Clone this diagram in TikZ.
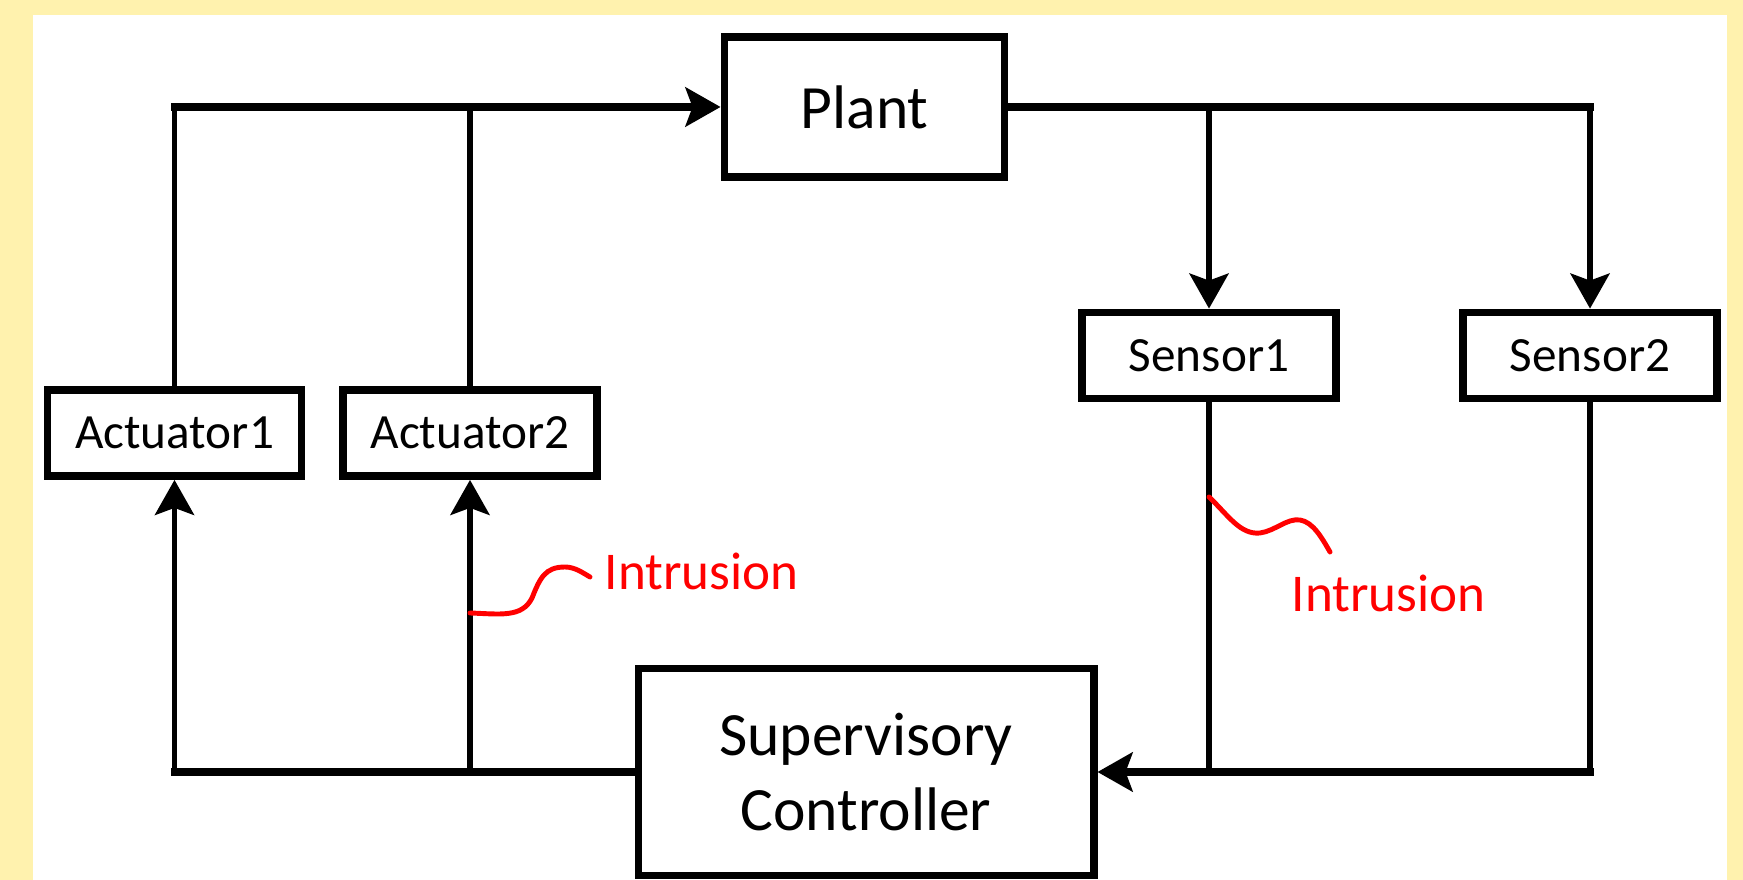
\documentclass[tikz,border=0pt]{standalone}
\usepackage{fontspec}
\setmainfont{Carlito}
\usetikzlibrary{arrows.meta}
\definecolor{bgyellow}{HTML}{FFF2AE}

\begin{document}
\begin{tikzpicture}[x=0.01cm,y=-0.01cm,>={Stealth[length=3.5mm,width=3.9mm,inset=0.7mm]},
  box/.style={draw,line width=2.2pt,inner sep=0pt,fill=white},
  small/.style={box,minimum width=2.54cm,minimum height=0.86cm,font=\fontsize{14}{16}\selectfont},
  big/.style={box,align=center,font=\fontsize{17.5}{21.3}\selectfont},
  bus/.style={line width=2pt,line cap=rect},
  wire/.style={line width=1.6pt},
  hack/.style={red,line width=1.4pt,line cap=round},
  alert/.style={red,inner sep=0pt,anchor=base west,font=\fontsize{15.1}{17}\selectfont}]
\useasboundingbox (0,0) rectangle (1743,880);
\fill[bgyellow] (0,0) rectangle (1743,880);
\fill[white] (33,15) rectangle (1727,880);
% blocks
\node[big,minimum width=2.8cm,minimum height=1.4cm] (plant) at (864.5,107) {Plant};
\node[big,minimum width=4.55cm,minimum height=2.07cm] (ctrl) at (866,772) {Supervisory\\Controller};
\node[small] (act1) at (174.5,433) {Actuator1};
\node[small] (act2) at (470,433) {Actuator2};
\node[small] (sen1) at (1209,355.5) {Sensor1};
\node[small] (sen2) at (1590,355.5) {Sensor2};
% actuators -> plant
\draw[wire] (act1.north) -- (act1.north |- plant.west);
\draw[wire] (act2.north) -- (act2.north |- plant.west);
\draw[bus,->] (act1.north |- plant.west) -- (plant.west);
% plant -> sensors
\draw[bus] (plant.east) -- (sen2.north |- plant.east);
\draw[wire,->] (sen1.north |- plant.east) -- (sen1.north);
\draw[wire,->] (sen2.north |- plant.east) -- (sen2.north);
% sensors -> controller
\draw[wire] (sen1.south) -- (sen1.south |- ctrl.east);
\draw[wire] (sen2.south) -- (sen2.south |- ctrl.east);
\draw[bus,->] (sen2.south |- ctrl.east) -- (ctrl.east);
% controller -> actuators
\draw[bus] (act1.south |- ctrl.west) -- (ctrl.west);
\draw[wire,->] (act1.south |- ctrl.west) -- (act1.south);
\draw[wire,->] (act2.south |- ctrl.west) -- (act2.south);
% intrusions
\node[alert] (intr1) at (604,590) {Intrusion};
\node[alert] (intr2) at (1291,612) {Intrusion};
\coordinate (hit1) at (470,613);
\coordinate (tail1) at (590,577);
\coordinate (hit2) at (1209,497);
\coordinate (tail2) at (1330,552);
\draw[hack] (hit1) .. controls (500,614) and (522,618) .. (532,598) .. controls (540,578) and (545,567) .. (565,567) .. controls (575,567) and (583,573) .. (tail1);
\draw[hack] (hit2) .. controls (1228,515) and (1240,535) .. (1260,533) .. controls (1275,531) and (1287,518) .. (1300,520) .. controls (1313,522) and (1322,538) .. (tail2);
\end{tikzpicture}
\end{document}
